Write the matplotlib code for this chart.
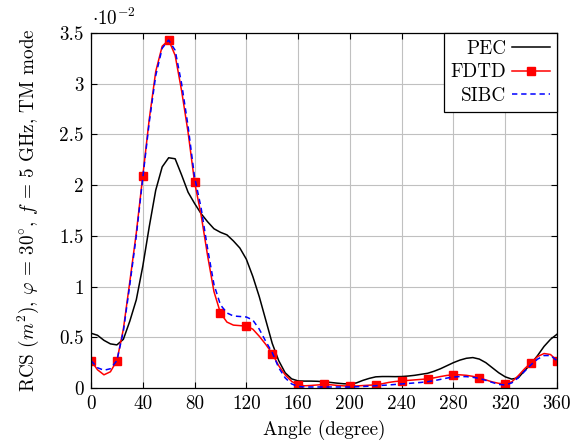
import numpy as np
import matplotlib
matplotlib.use("Agg")
import matplotlib.pyplot as plt

plt.rcParams['font.family'] = 'serif'
plt.rcParams['font.serif'] = ['cmr10']
plt.rcParams['mathtext.fontset'] = 'cm'
plt.rcParams['axes.unicode_minus'] = False
plt.rcParams['axes.formatter.use_mathtext'] = True

# Angle (degree), step 5
angle = np.arange(0, 361, 5)

# RCS values in units of 1e-2 m^2
pec = [0.54, 0.52, 0.47, 0.435, 0.425, 0.48, 0.66, 0.87, 1.2, 1.59,
       1.95, 2.18, 2.27, 2.26, 2.1, 1.93, 1.82, 1.72, 1.64, 1.57,
       1.535, 1.51, 1.45, 1.38, 1.27, 1.1, 0.9, 0.67, 0.44, 0.27,
       0.15, 0.09, 0.07, 0.068, 0.068, 0.066, 0.062, 0.055, 0.048, 0.042,
       0.04, 0.05, 0.075, 0.095, 0.11, 0.113, 0.113, 0.112, 0.113, 0.118,
       0.125, 0.135, 0.145, 0.165, 0.19, 0.22, 0.25, 0.275, 0.293, 0.30,
       0.285, 0.25, 0.2, 0.15, 0.11, 0.088, 0.10, 0.17, 0.24, 0.32,
       0.41, 0.48, 0.53]

fdtd = [0.27, 0.18, 0.13, 0.16, 0.27, 0.58, 1.05, 1.53, 2.09, 2.65,
        3.12, 3.37, 3.43, 3.28, 2.93, 2.52, 2.03, 1.71, 1.31, 0.95,
        0.74, 0.65, 0.62, 0.615, 0.61, 0.58, 0.51, 0.43, 0.34, 0.22,
        0.13, 0.065, 0.03, 0.022, 0.025, 0.03, 0.035, 0.032, 0.026, 0.021,
        0.02, 0.02, 0.024, 0.028, 0.03, 0.042, 0.055, 0.064, 0.07, 0.075,
        0.08, 0.085, 0.09, 0.10, 0.113, 0.124, 0.13, 0.13, 0.125, 0.115,
        0.10, 0.08, 0.06, 0.046, 0.04, 0.06, 0.12, 0.19, 0.25, 0.31,
        0.34, 0.33, 0.27]

sibc = [0.27, 0.2, 0.175, 0.19, 0.27, 0.56, 1.02, 1.5, 2.07, 2.62,
        3.08, 3.35, 3.43, 3.33, 3.0, 2.58, 2.08, 1.78, 1.38, 1.02,
        0.82, 0.74, 0.71, 0.705, 0.70, 0.67, 0.58, 0.46, 0.35, 0.2,
        0.1, 0.04, 0.015, 0.01, 0.01, 0.01, 0.01, 0.01, 0.01, 0.01,
        0.01, 0.012, 0.015, 0.018, 0.022, 0.026, 0.03, 0.035, 0.04, 0.045,
        0.05, 0.055, 0.062, 0.072, 0.085, 0.098, 0.108, 0.113, 0.112, 0.105,
        0.095, 0.075, 0.055, 0.035, 0.03, 0.05, 0.1, 0.165, 0.23, 0.285,
        0.32, 0.32, 0.27]

xticks = [0, 40, 80, 120, 160, 200, 240, 280, 320, 360]
yticks = [0, 0.5, 1, 1.5, 2, 2.5, 3, 3.5]
ytick_labels = ['0', '0.5', '1', '1.5', '2', '2.5', '3', '3.5']

fs = 13.8

fig = plt.figure(figsize=(5.79, 4.43), dpi=100)
ax = fig.add_axes([91/579, 1-388/443, (557-91)/579, (388-33)/443])

ax.plot(angle, pec, color='black', lw=1.1, label='PEC')
ax.plot(angle, fdtd, color='red', lw=1.1, marker='s', markersize=5.5,
        markevery=4, label='FDTD')
ax.plot(angle, sibc, color='blue', lw=1.1, linestyle=(0, (3.5, 2.5)), label='SIBC')

ax.set_xlim(0, 360)
ax.set_ylim(0, 3.5)
ax.set_xticks(xticks)
ax.set_xticklabels([str(v) for v in xticks])
ax.set_yticks(yticks)
ax.set_yticklabels(ytick_labels)
ax.tick_params(direction='in', top=True, right=True, labelsize=fs,
               length=4, width=0.8, pad=5)
ax.grid(True, color='#c0c0c0', lw=0.8)
ax.set_axisbelow(True)
for s in ax.spines.values():
    s.set_linewidth(0.9)

ax.set_xlabel('Angle (degree)', fontsize=fs, labelpad=5)
ax.set_ylabel(r'RCS $(m^2)$, $\varphi$ = 30$^{\circ}$, $f$ = 5 GHz, TM mode',
              fontsize=fs, labelpad=13)
ax.text(0.003, 1.01, r'$\cdot 10^{-2}$', transform=ax.transAxes,
        ha='left', va='bottom', fontsize=fs)

leg = ax.legend(loc='upper right', markerfirst=False, fancybox=False,
                edgecolor='black', framealpha=1, borderaxespad=0,
                fontsize=fs, handlelength=2.0, handletextpad=0.3,
                labelspacing=0.3, borderpad=0.35)
leg.get_frame().set_linewidth(0.9)
for t in leg.get_texts():
    t.set_ha('right')

fig.savefig('out.png', dpi=100)
